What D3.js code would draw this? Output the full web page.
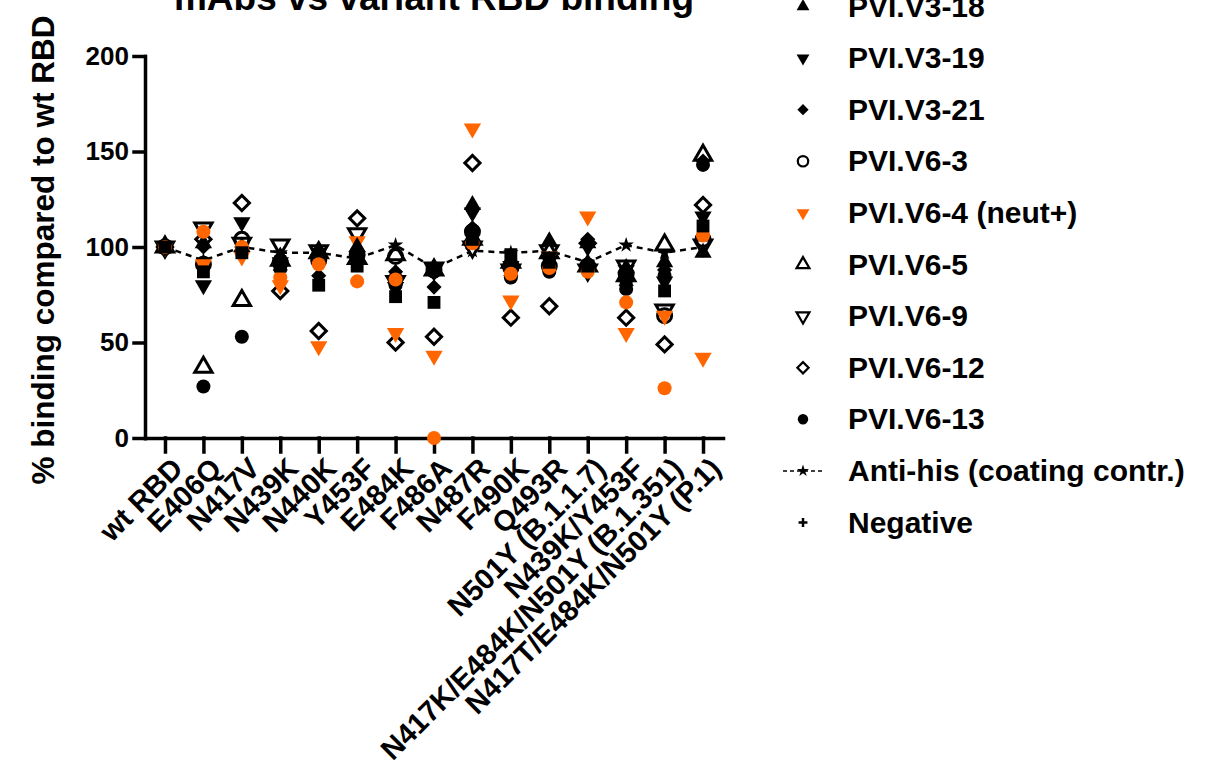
<!DOCTYPE html>
<html>
<head>
<meta charset="utf-8">
<script src="https://cdn.jsdelivr.net/npm/d3@7"></script>
<style>
  body { margin: 0; background: #fff; }
  text { font-family: "Liberation Sans", Arial, sans-serif; font-weight: bold; fill: #000; }
</style>
</head>
<body>
<script>
  // categories on the x axis
  var variants = ["wt RBD", "E406Q", "N417V", "N439K", "N440K", "Y453F", "E484K", "F486A",
    "N487R", "F490K", "Q493R", "N501Y (B.1.1.7)", "N439K/Y453F",
    "N417K/E484K/N501Y (B.1.351)", "N417T/E484K/N501Y (P.1)"];
  var yTicks = [0, 50, 100, 150, 200];

  // % binding per mAb (one value per variant)
  var sqHidden     = [100, 87, 97, 90, 80, 90, 74, 71, 104, 96, 92, 90, 84, 77, 111];
  var orangeHidden = [100, 108, 100, 84, 91, 82, 83, 0, 102, 86, 89, 87, 71, 26, 106];
  var v3_18  = [100, 102, 100, 95, 98, 100, 86, 88, 122, 93, 103, 102, 89, 92, 97];
  var v3_19  = [100, 80, 113, 92, 97, 95, 79, 87, 118, 90, 95, 100, 88, 82, 116];
  var v3_21  = [100, 100, 100, 88, 85, 92, 87, 79, 110, 85, 94, 104, 80, 88, 145];
  var v6_3   = [100, 91, 104, 92, 93, 96, 95, 88, 108, 89, 90, 90, 86, 64, 104];
  var v6_4   = [100, 91, 95, 80, 48, 103, 55, 43, 162, 72, 95, 116, 55, 64, 42];
  var v6_5   = [100, 37, 72, 93, 97, 94, 96, 88, 104, 92, 97, 90, 85, 101, 148];
  var v6_9   = [100, 110, 102, 101, 98, 107, 82, 89, 100, 88, 98, 88, 90, 67, 101];
  var v6_12  = [100, 104, 123, 77, 56, 115, 50, 53, 144, 63, 69, 102, 63, 49, 122];
  var v6_13  = [100, 27, 53, 90, 95, 93, 80, 87, 108, 84, 87, 89, 78, 85, 143];
  var antiHis  = [100, 93, 100, 97, 97, 94, 101, 89, 98, 97, 98, 92, 101, 97, 100];
  var negative = [100, 100, 99, 95, 99, 90, 98, 90, 119, 95, 96, 91, 82, 90, 108];

  var orange = "#ff6600";

  // series: legend = row in the (cropped) legend, -1 means its row is off the page
  var series = [
    {name: "Negative", vals: negative, shape: "plus", fill: "#000", open: false, legend: 10},
    {name: "PVI.V6-13", vals: v6_13, shape: "circle", fill: "#000", open: false, legend: 8},
    {name: "PVI.V6-12", vals: v6_12, shape: "diamond", fill: "#000", open: true, legend: 7},
    {name: "PVI.V6-9", vals: v6_9, shape: "down", fill: "#000", open: true, legend: 6},
    {name: "PVI.V6-5", vals: v6_5, shape: "up", fill: "#000", open: true, legend: 5},
    {name: "PVI.V6-3", vals: v6_3, shape: "circle", fill: "#000", open: true, legend: 3},
    {name: "PVI.V6-4 (neut+)", vals: v6_4, shape: "down", fill: orange, open: false, legend: 4},
    {name: "PVI.V3-21", vals: v3_21, shape: "diamond", fill: "#000", open: false, legend: 2},
    {name: "PVI.V3-19", vals: v3_19, shape: "down", fill: "#000", open: false, legend: 1},
    {name: "PVI.V3-18", vals: v3_18, shape: "up", fill: "#000", open: false, legend: 0},
    {name: "orange", vals: orangeHidden, shape: "circle", fill: orange, open: false, legend: -1},
    {name: "square", vals: sqHidden, shape: "square", fill: "#000", open: false, legend: -1}
  ];

  var width = 1218, height = 771;
  var svg = d3.select("body").append("svg")
    .attr("width", width)
    .attr("height", height);

  var x = d3.scalePoint().domain(variants).range([145, 723]).padding(0.52);
  var y = d3.scaleLinear().domain([0, 200]).range([438, 56]);

  // symbol path for a shape, k scales it (legend is smaller)
  function shapePath(shape, k) {
    if (shape == "circle") return d3.symbol().type(d3.symbolCircle).size(155 * k)();
    if (shape == "square") return d3.symbol().type(d3.symbolSquare).size(165 * k)();
    if (shape == "up" || shape == "down") return d3.symbol().type(d3.symbolTriangle).size(130 * k)();
    if (shape == "diamond") return d3.symbol().type(d3.symbolSquare).size(115 * k)();
    if (shape == "star") return d3.symbol().type(d3.symbolStar).size(75 * k)();
    var s = 6 * Math.sqrt(k);
    return "M" + (-s) + ",0H" + s + "M0," + (-s) + "V" + s;
  }
  function shapeRot(shape) {
    if (shape == "down") return " rotate(180)";
    if (shape == "diamond") return " rotate(45)";
    return "";
  }
  function styleMark(sel, d, k) {
    sel.attr("d", shapePath(d.shape, k));
    if (d.shape == "plus") {
      sel.style("fill", "none").style("stroke", d.fill).style("stroke-width", 2.5);
    } else if (d.open) {
      sel.style("fill", d.shape == "circle" ? "none" : "#fff")
        .style("stroke", d.fill).style("stroke-width", 3 * Math.sqrt(k));
    } else {
      sel.style("fill", d.fill);
    }
  }

  // title (cut by the top edge like the reference)
  svg.append("text")
    .attr("x", 434)
    .attr("y", 10)
    .attr("text-anchor", "middle")
    .style("font-size", "37px")
    .text("mAbs vs variant RBD binding");

  // axes
  var yAxis = svg.append("g")
    .attr("transform", "translate(145,0)")
    .call(d3.axisLeft(y).tickValues(yTicks).tickSize(11).tickSizeOuter(0).tickPadding(5));
  yAxis.selectAll("text").style("font-size", "26px");

  var xAxis = svg.append("g")
    .attr("transform", "translate(0,438)")
    .call(d3.axisBottom(x).tickSize(14).tickSizeOuter(0));
  xAxis.selectAll("text")
    .attr("x", 0).attr("y", 0).attr("dy", "0.35em")
    .attr("text-anchor", "end")
    .attr("transform", "translate(12,25) rotate(-45)")
    .style("font-size", "29px");

  svg.selectAll(".domain, .tick line")
    .style("stroke", "#000")
    .style("stroke-width", 3.5)
    .style("stroke-linecap", "square");

  svg.append("text")
    .attr("transform", "translate(54,250) rotate(-90)")
    .attr("text-anchor", "middle")
    .style("font-size", "31.5px")
    .text("% binding compared to wt RBD");

  // anti-his coating control: dashed line with stars
  var line = d3.line()
    .x(function(d, i) { return x(variants[i]); })
    .y(function(d) { return y(d); });
  svg.append("path")
    .attr("d", line(antiHis))
    .style("fill", "none")
    .style("stroke", "#000")
    .style("stroke-width", 2.5)
    .style("stroke-dasharray", "6,5");
  svg.selectAll(".star")
    .data(antiHis)
  .enter().append("path")
    .attr("class", "star")
    .attr("transform", function(d, i) { return "translate(" + x(variants[i]) + "," + y(d) + ")"; })
    .attr("d", shapePath("star", 1))
    .style("fill", "#000");

  // all mAb points
  series.forEach(function(s) {
    svg.append("g").selectAll("path")
      .data(s.vals)
    .enter().append("path")
      .attr("transform", function(d, i) {
        return "translate(" + x(variants[i]) + "," + y(d) + ")" + shapeRot(s.shape);
      })
      .each(function() { styleMark(d3.select(this), s, 1); });
  });

  // legend (top rows are cut off by the page edge)
  var legX = 803, textX = 848, row0 = 16.5, rowH = 51.6;
  series.filter(function(s) { return s.legend >= 0; }).forEach(function(s) {
    var cy = row0 + rowH * s.legend - 10;
    var m = svg.append("path")
      .attr("transform", "translate(" + legX + "," + cy + ")" + shapeRot(s.shape));
    styleMark(m, s, 0.55);
    svg.append("text")
      .attr("x", textX)
      .attr("y", row0 + rowH * s.legend)
      .style("font-size", "30px")
      .text(s.name);
  });

  // anti-his legend row
  var ay = row0 + rowH * 9 - 10;
  svg.append("line")
    .attr("x1", 783).attr("x2", 825)
    .attr("y1", ay).attr("y2", ay)
    .style("stroke", "#000")
    .style("stroke-width", 1.5)
    .style("stroke-dasharray", "4,3");
  svg.append("path")
    .attr("transform", "translate(" + legX + "," + ay + ")")
    .attr("d", shapePath("star", 0.6))
    .style("fill", "#000");
  svg.append("text")
    .attr("x", textX)
    .attr("y", row0 + rowH * 9)
    .style("font-size", "30px")
    .text("Anti-his (coating contr.)");
</script>
</body>
</html>
